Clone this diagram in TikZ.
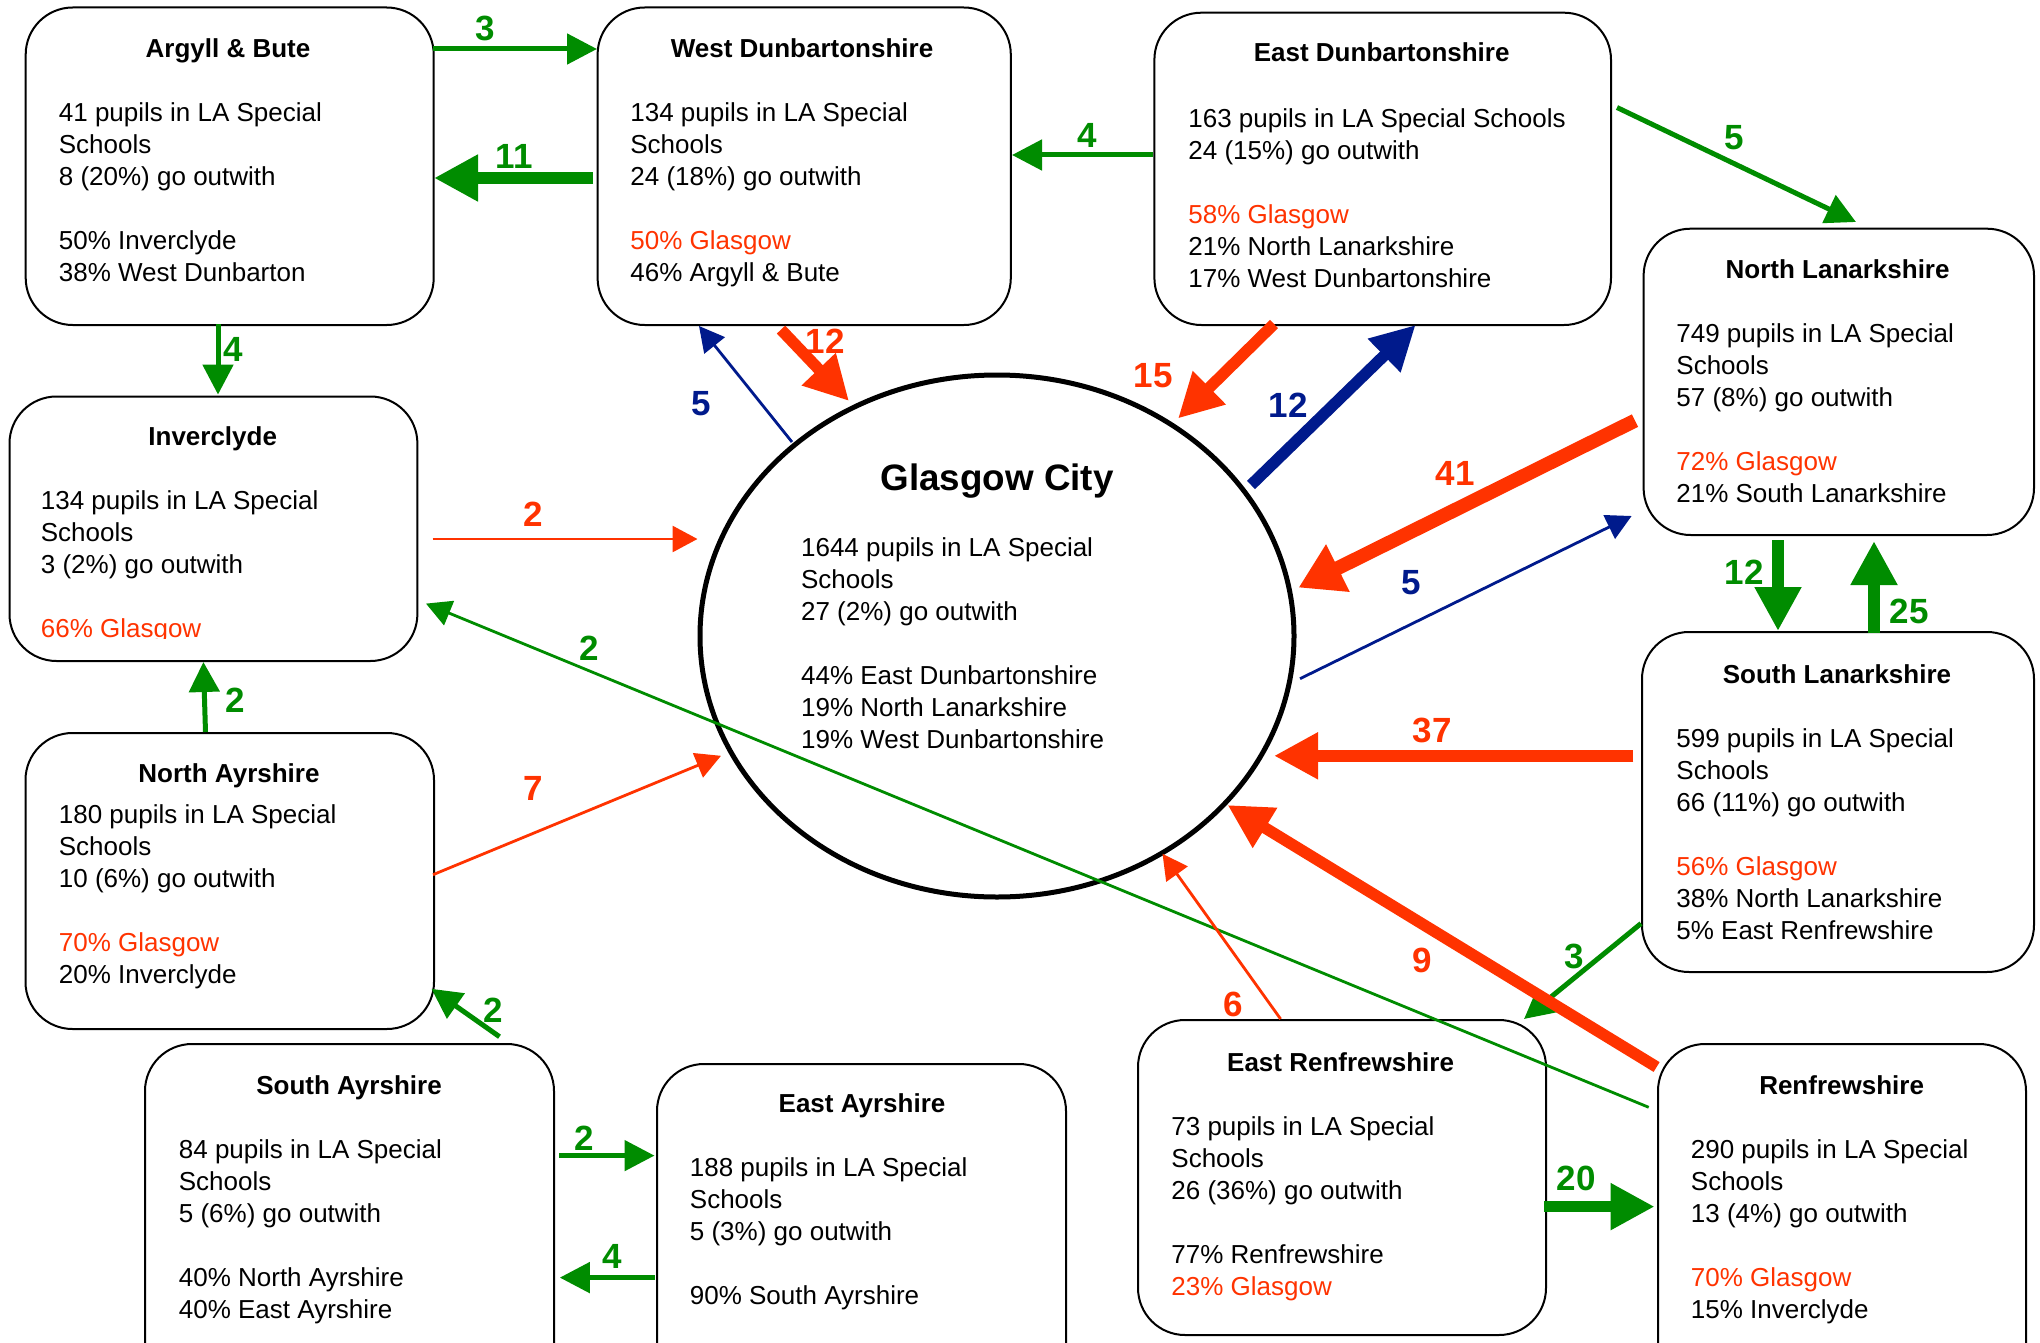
\documentclass[tikz,border=0pt]{standalone}
\usepackage{fontspec}
\setmainfont{Liberation Sans}
\usetikzlibrary{arrows.meta,shapes.geometric}
\definecolor{gr}{RGB}{0,140,0}
\definecolor{rd}{RGB}{255,51,0}
\definecolor{bl}{RGB}{0,26,140}
\begin{document}
\begin{tikzpicture}[x=0.5pt,y=-0.5pt,
  boxst/.style={rectangle, draw=black, line width=1pt, rounded corners=23.5pt, fill=white, anchor=north west, inner sep=0},
  ttl/.style={font=\fontsize{13pt}{16pt}\selectfont\bfseries, anchor=base, inner sep=0},
  body/.style={font=\fontsize{13pt}{16pt}\selectfont, anchor=base west, align=left, inner sep=0},
  num/.style={font=\fontsize{17.5pt}{20pt}\selectfont\bfseries, inner sep=0},
  thinarr/.style={line width=1.4pt, -{Triangle[length=12.5pt,width=13pt]}},
  medarr/.style={line width=2.5pt, -{Triangle[length=15pt,width=15pt]}},
  bigarr/.style={line width=5.75pt, -{Triangle[length=22pt,width=22pt]}},
  hugearr/.style={line width=7pt, -{Triangle[length=22pt,width=25pt]}}]
\useasboundingbox (0,0) rectangle (2040,1343);
\clip (0,0) rectangle (2040,1343);
\fill[white] (0,0) rectangle (2040,1343);

% boxes
\node[boxst, minimum width=204pt, minimum height=158.75pt] (ab) at (24.7,6.5) {};
\node[boxst, minimum width=206.6pt, minimum height=158.75pt] (wd) at (596.6,6.5) {};
\node[boxst, minimum width=228.3pt, minimum height=156.15pt] (ed) at (1153.4,11.7) {};
\node[boxst, minimum width=195.2pt, minimum height=153.15pt] (nl) at (1642.6,227.7) {};
\node[boxst, minimum width=203.95pt, minimum height=132.25pt] (inv) at (8.5,395.5) {};
\node[boxst, minimum width=204.25pt, minimum height=148pt] (na) at (24.5,732) {};
\node[boxst, minimum width=196pt, minimum height=170pt] (sl) at (1641,631) {};
\node[boxst, minimum width=204.5pt, minimum height=178.5pt] (sa) at (144,1043) {};
\node[boxst, minimum width=204.5pt, minimum height=168.5pt] (ea) at (656,1063) {};
\node[boxst, minimum width=204pt, minimum height=157.5pt] (er) at (1137,1019) {};
\node[boxst, minimum width=184pt, minimum height=178.5pt] (rf) at (1657,1043) {};
\node[ellipse, draw=black, line width=2.5pt, fill=white, minimum width=297pt, minimum height=261pt, inner sep=0] (gc) at (997,636) {};

% titles
\node[ttl] (abt) at (228,57.5) {Argyll \& Bute};
\node[ttl] (wdt) at (802,57.5) {West Dunbartonshire};
\node[ttl] (edt) at (1381.7,62) {East Dunbartonshire};
\node[ttl] (nlt) at (1837.6,278) {North Lanarkshire};
\node[ttl] (invt) at (212.7,445) {Inverclyde};
\node[ttl, font=\fontsize{18.4pt}{22pt}\selectfont\bfseries] (gct) at (997,490) {Glasgow City};
\node[ttl] (nat) at (229,782) {North Ayrshire};
\node[ttl] (slt) at (1837,683) {South Lanarkshire};
\node[ttl] (sat) at (349,1094) {South Ayrshire};
\node[ttl] (eat) at (862,1112) {East Ayrshire};
\node[ttl] (ert) at (1340.6,1071) {East Renfrewshire};
\node[ttl] (rft) at (1841.6,1094) {Renfrewshire};

% bodies (anchor = baseline of the last line)
\node[body] (abb) at (58.5,281.5) {41 pupils in LA Special\\Schools\\8 (20\%) go outwith\\[16pt]50\% Inverclyde\\38\% West Dunbarton};
\node[body] (wdb) at (630,281.5) {134 pupils in LA Special\\Schools\\24 (18\%) go outwith\\[16pt]{\color{rd}50\% Glasgow}\\46\% Argyll \& Bute};
\node[body] (edb) at (1188,287) {163 pupils in LA Special Schools\\24 (15\%) go outwith\\[16pt]{\color{rd}58\% Glasgow}\\21\% North Lanarkshire\\17\% West Dunbartonshire};
\node[body] (nlb) at (1676,502.5) {749 pupils in LA Special\\Schools\\57 (8\%) go outwith\\[16pt]{\color{rd}72\% Glasgow}\\21\% South Lanarkshire};
\begin{scope}
\clip (0,0) rectangle (430,638);
\node[body] (invb) at (40.5,637) {134 pupils in LA Special\\Schools\\3 (2\%) go outwith\\[16pt]{\color{rd}66\% Glasgow}};
\end{scope}
\node[body] (gcb) at (800.7,748.7) {1644 pupils in LA Special\\Schools\\27 (2\%) go outwith\\[16pt]44\% East Dunbartonshire\\19\% North Lanarkshire\\19\% West Dunbartonshire};
\node[body] (nab) at (58.5,983.5) {180 pupils in LA Special\\Schools\\10 (6\%) go outwith\\[16pt]{\color{rd}70\% Glasgow}\\20\% Inverclyde};
\node[body] (slb) at (1676,939) {599 pupils in LA Special\\Schools\\66 (11\%) go outwith\\[16pt]{\color{rd}56\% Glasgow}\\38\% North Lanarkshire\\5\% East Renfrewshire};
\node[body] (sab) at (178.5,1318) {84 pupils in LA Special\\Schools\\5 (6\%) go outwith\\[16pt]40\% North Ayrshire\\40\% East Ayrshire};
\node[body] (eab) at (689.5,1304) {188 pupils in LA Special\\Schools\\5 (3\%) go outwith\\[16pt]90\% South Ayrshire};
\node[body] (erb) at (1171,1295) {73 pupils in LA Special\\Schools\\26 (36\%) go outwith\\[16pt]77\% Renfrewshire\\{\color{rd}23\% Glasgow}};
\node[body] (rfb) at (1690.5,1318) {290 pupils in LA Special\\Schools\\13 (4\%) go outwith\\[16pt]{\color{rd}70\% Glasgow}\\15\% Inverclyde};

% connector end points
\coordinate (p1s) at (432.7,49);   \coordinate (p1e) at (597,49);
\coordinate (p2s) at (593,178);    \coordinate (p2e) at (434,178);
\coordinate (p3s) at (1153,155);   \coordinate (p3e) at (1012,155);
\coordinate (p4s) at (1617,107.5); \coordinate (p4e) at (1856,222);
\coordinate (p5s) at (218,324);    \coordinate (p5e) at (218,394.6);
\coordinate (p6s) at (205.5,732);  \coordinate (p6e) at (203.4,662);
\coordinate (p7s) at (792,442);    \coordinate (p7e) at (699,326);
\coordinate (p8s) at (781,329.6);  \coordinate (p8e) at (849,401);
\coordinate (p9s) at (1274,324);   \coordinate (p9e) at (1178,418.5);
\coordinate (p10s) at (1251,485);  \coordinate (p10e) at (1415.6,325);
\coordinate (p11s) at (1635,420.6); \coordinate (p11e) at (1298.5,587.6);
\coordinate (p12s) at (1300,678.7); \coordinate (p12e) at (1631.6,516);
\coordinate (p13s) at (1778,540);  \coordinate (p13e) at (1778,631);
\coordinate (p14s) at (1874,633);  \coordinate (p14e) at (1874,541);
\coordinate (p15s) at (1633.4,755.8); \coordinate (p15e) at (1274,755.8);
\coordinate (p16s) at (432.6,539); \coordinate (p16e) at (697.5,539);
\coordinate (p17s) at (433,874.7); \coordinate (p17e) at (721,755.8);
\coordinate (p18s) at (1648.7,1107.3); \coordinate (p18e) at (426,603.6);
\coordinate (p19s) at (1280.6,1019); \coordinate (p19e) at (1162.5,853.8);
\coordinate (p20s) at (1656.6,1067); \coordinate (p20e) at (1227.5,805);
\coordinate (p21s) at (1641,923.5); \coordinate (p21e) at (1524,1019);
\coordinate (p22s) at (1544,1206.6); \coordinate (p22e) at (1654.6,1206.6);
\coordinate (p23s) at (499.5,1036.7); \coordinate (p23e) at (431.4,988.8);
\coordinate (p24s) at (559,1155.6); \coordinate (p24e) at (654.5,1155.6);
\coordinate (p25s) at (654.5,1277.6); \coordinate (p25e) at (559.8,1277.6);

% connectors
\draw[medarr, gr] (p1s) -- (p1e);
\draw[bigarr, gr] (p2s) -- (p2e);
\draw[medarr, gr] (p3s) -- (p3e);
\draw[medarr, gr] (p4s) -- (p4e);
\draw[medarr, gr] (p5s) -- (p5e);
\draw[medarr, gr] (p6s) -- (p6e);
\draw[thinarr, bl] (p7s) -- (p7e);
\draw[bigarr, rd] (p8s) -- (p8e);
\draw[bigarr, rd] (p9s) -- (p9e);
\draw[bigarr, bl] (p10s) -- (p10e);
\draw[hugearr, rd] (p11s) -- (p11e);
\draw[thinarr, bl] (p12s) -- (p12e);
\draw[bigarr, gr] (p13s) -- (p13e);
\draw[bigarr, gr] (p14s) -- (p14e);
\draw[bigarr, rd] (p15s) -- (p15e);
\draw[thinarr, rd] (p16s) -- (p16e);
\draw[thinarr, rd] (p17s) -- (p17e);
\draw[thinarr, gr] (p18s) -- (p18e);
\draw[thinarr, rd] (p19s) -- (p19e);
\draw[medarr, gr] (p21s) -- (p21e);
\draw[bigarr, rd] (p20s) -- (p20e);
\draw[bigarr, gr] (p22s) -- (p22e);
\draw[medarr, gr] (p23s) -- (p23e);
\draw[medarr, gr] (p24s) -- (p24e);
\draw[medarr, gr] (p25s) -- (p25e);

% labels
\node[num, gr] (l1) at (485,28) {3};
\node[num, gr] (l2) at (514,156) {11};
\node[num, gr] (l3) at (1087,135) {4};
\node[num, gr] (l4) at (1734,138) {5};
\node[num, gr] (l5) at (233,349) {4};
\node[num, gr] (l6) at (235,700) {2};
\node[num, bl] (l7) at (701,404) {5};
\node[num, rd] (l8) at (825,341) {12};
\node[num, rd] (l9) at (1153,376) {15};
\node[num, bl] (l10) at (1288,405) {12};
\node[num, rd] (l11) at (1455,473) {41};
\node[num, bl] (l12) at (1411,583) {5};
\node[num, gr] (l13) at (1744,572) {12};
\node[num, gr] (l14) at (1909,611) {25};
\node[num, rd] (l15) at (1432,730) {37};
\node[num, rd] (l16) at (533.5,514) {2};
\node[num, rd] (l17) at (533,788) {7};
\node[num, gr] (l18) at (589,648) {2};
\node[num, rd] (l19) at (1233,1004) {6};
\node[num, rd] (l20) at (1422,960) {9};
\node[num, gr] (l21) at (1574,956) {3};
\node[num, gr] (l22) at (1576,1178) {20};
\node[num, gr] (l23) at (493,1010) {2};
\node[num, gr] (l24) at (584,1138) {2};
\node[num, gr] (l25) at (612,1256) {4};
\end{tikzpicture}
\end{document}
